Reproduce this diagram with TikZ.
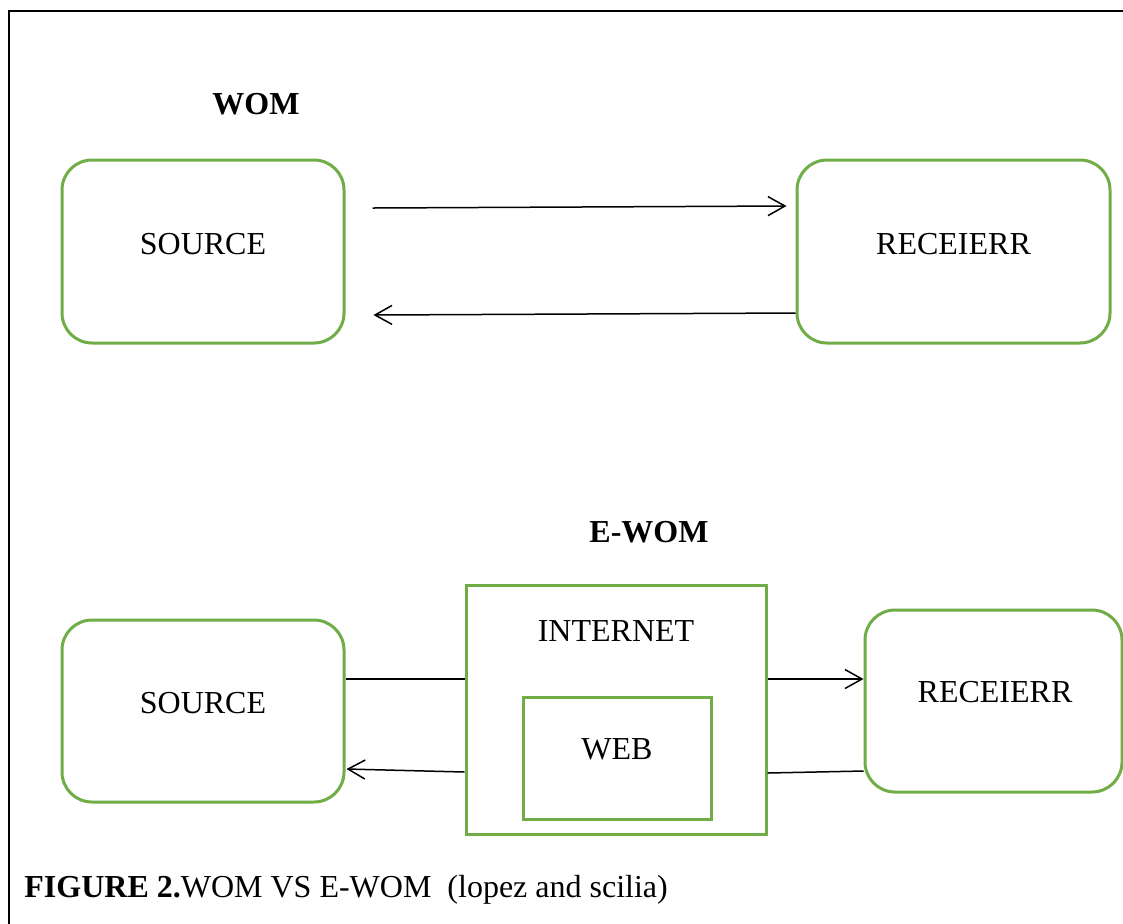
\documentclass[tikz,border=0pt]{standalone}
\usepackage{fontspec}
\setmainfont{Liberation Serif}
\usetikzlibrary{arrows.meta}
\definecolor{boxgreen}{HTML}{70AD47}
\tikzset{
  rbox/.style={draw=boxgreen, line width=1.5pt, rounded corners=15pt, inner sep=0pt},
  sbox/.style={draw=boxgreen, line width=1.5pt, inner sep=0pt},
  txt/.style={font=\fontsize{16}{19}\selectfont, inner sep=0pt},
  ttl/.style={font=\fontsize{16}{19}\selectfont\bfseries, inner sep=0pt},
  link/.style={line width=0.75pt, black},
  arr/.style={link, -{Straight Barb[length=8.5pt, width=9.5pt, line width=0.75pt]}}
}
\begin{document}
\begin{tikzpicture}[x=0.5pt, y=-0.5pt]
\useasboundingbox (0,0) rectangle (1123,923);
\fill[white] (0,0) rectangle (1123,923);
% page frame
\draw[line width=1pt, line cap=rect] (9,923) -- (9,11) -- (1123,11);

% ---- WOM ----
\node[ttl] (wom) at (256,104) {WOM};
\node[rbox, minimum width=141pt, minimum height=91.5pt] (src1) at (203,251.5) {};
\node[rbox, minimum width=156.5pt, minimum height=91.5pt] (rcv1) at (953.5,251.5) {};
\node[txt] (src1t) at ([yshift=3.75pt]src1.center) {SOURCE};
\node[txt] (rcv1t) at ([yshift=3.75pt]rcv1.center) {RECEIERR};

\draw[arr] ([shift={(27,-43.5)}]src1.east) -- ([shift={(-9,-45.5)}]rcv1.west);
\draw[arr] ([shift={(0,61.5)}]rcv1.west) -- ([shift={(28,63.5)}]src1.east);

% ---- E-WOM ----
\node[ttl] (ewom) at (649,532) {E-WOM};
\node[rbox, minimum width=141pt, minimum height=91pt] (src2) at (203,711) {};
\node[sbox, minimum width=150pt, minimum height=124.5pt] (inet) at (616,709.5) {};
\node[sbox, minimum width=94pt, minimum height=61pt] (web) at (617,758) {};
\node[rbox, minimum width=128.5pt, minimum height=91pt] (rcv2) at (993.5,701) {};
\node[txt] (src2t) at ([yshift=4pt]src2.center) {SOURCE};
\node[txt] (inett) at (616,631) {INTERNET};
\node[txt] (webt) at (617,749) {WEB};
\node[txt] (rcv2t) at (995,692) {RECEIERR};

\draw[link] ([yshift=16pt]src2.east) -- ([yshift=15.25pt]inet.west);
\draw[arr] ([yshift=15.25pt]inet.east) -- ([yshift=11pt]rcv2.west);
\draw[link] ([yshift=-35pt]rcv2.west) -- ([yshift=-31.75pt]inet.east);
\draw[arr] ([yshift=-31.25pt]inet.west) -- ([shift={(1,58)}]src2.east);

% ---- caption ----
\node[txt, anchor=base west] (cap) at (24,897) {\textbf{FIGURE 2.}WOM VS E-WOM\ \ (lopez and scilia)};
\end{tikzpicture}
\end{document}
